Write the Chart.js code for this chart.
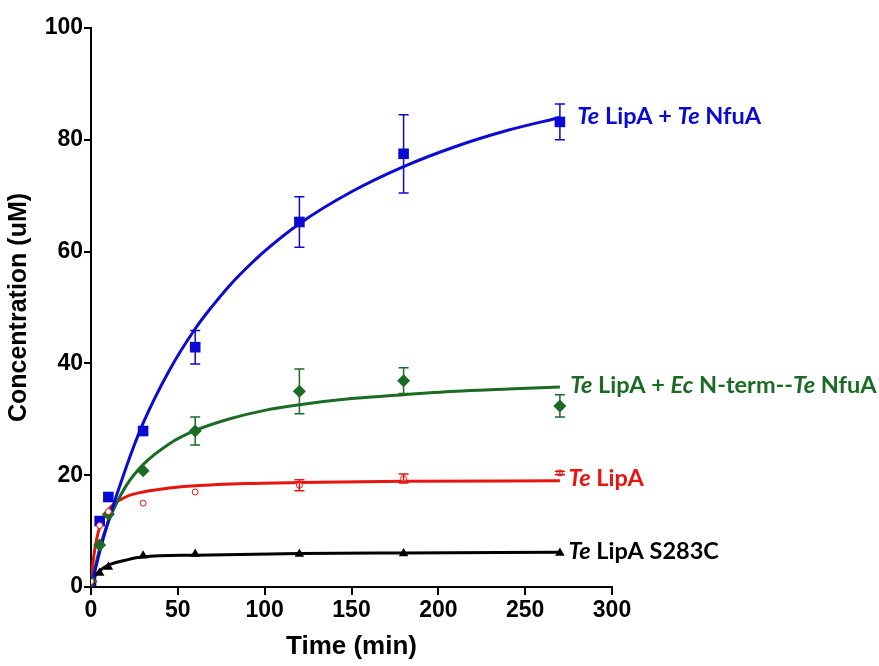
<!DOCTYPE html>
<html>
<head>
<meta charset="utf-8">
<script src="https://cdn.jsdelivr.net/npm/chart.js@4"></script>
<style>
  body { margin: 0; background: #fff; }
  canvas { display: block; }
</style>
</head>
<body>
<canvas id="chart" width="879" height="666"></canvas>
<script>
// measured time points (min)
const times = [0, 5, 10, 30, 60, 120, 180, 270];

// means and error bars (uM)
const nfuaMean = [1.0, 11.8, 16.1, 27.9, 42.9, 65.3, 77.5, 83.2];
const nfuaErr = [0, 0, 0, 0, 3.0, 4.5, 7.0, 3.2];
const ecNfuaMean = [1.0, 7.5, 13.0, 20.8, 27.9, 35.0, 36.9, 32.4];
const ecNfuaErr = [0, 0, 0, 0, 2.5, 4.0, 2.3, 2.0];
const lipaMean = [1.0, 11.0, 13.5, 15.0, 17.0, 18.2, 19.4, 20.4];
const lipaErr = [0, 0, 0, 0, 0, 1.0, 0.8, 0.3];
const mutantMean = [1.0, 2.5, 3.6, 5.6, 5.9, 5.9, 6.0, 6.1];

// fitted curves
const nfuaFitT = [0, 5, 10, 20, 30, 45, 60, 70, 80, 90, 100, 120, 150, 180, 210, 240, 270];
const nfuaFitY = [0, 6.3, 11.8, 21.2, 29.3, 38.7, 46.2, 50.3, 54.0, 57.2, 60.1, 65.0, 70.7, 75.2, 78.8, 81.7, 84.0];
const ecNfuaFitT = [0, 5, 10, 20, 30, 45, 60, 80, 100, 120, 150, 180, 210, 240, 270];
const ecNfuaFitY = [0, 6.9, 11.7, 18.0, 21.9, 25.6, 28.0, 30.1, 31.6, 32.6, 33.7, 34.4, 35.0, 35.4, 35.8];
const lipaFitT = [0, 1, 2, 5, 10, 20, 30, 45, 60, 90, 120, 180, 270];
const lipaFitY = [0, 3.9, 6.4, 10.7, 13.8, 16.1, 17.0, 17.7, 18.1, 18.5, 18.7, 18.9, 19.0];
const mutantFitT = [0, 2, 5, 10, 20, 30, 60, 120, 180, 270];
const mutantFitY = [0, 1.8, 2.9, 3.9, 4.8, 5.4, 5.7, 6.0, 6.1, 6.2];

const xTicks = [0, 50, 100, 150, 200, 250, 300];
const yTicks = [0, 20, 40, 60, 80, 100];

// curve labels: [pieces (text, italic)], anchor (x, y in data units)
const seriesLabels = [
  { color: '#0a0ad2', at: [280, 84.2], parts: [['Te', true], [' LipA + ', false], ['Te', true], [' NfuA', false]] },
  { color: '#1b6b25', at: [276, 36.0], parts: [['Te', true], [' LipA + ', false], ['Ec', true], [' N-term--', false], ['Te', true], [' NfuA', false]] },
  { color: '#e8140f', at: [275, 19.4], parts: [['Te', true], [' LipA', false]] },
  { color: '#000000', at: [275, 6.4], parts: [['Te', true], [' LipA S283C', false]] }
];

const BLUE = '#0a0ad2', GREEN = '#1b6b25', RED = '#e8140f', BLACK = '#000000';

const pts = (xs, ys) => xs.map((x, i) => ({ x: x, y: ys[i] }));

const curve = (xs, ys, color) => ({
  data: pts(xs, ys),
  showLine: true,
  borderColor: color,
  borderWidth: 3,
  pointRadius: 0,
  cubicInterpolationMode: 'monotone',
  order: 2
});

const marks = (ys, err, color, style, radius, filled) => ({
  data: pts(times, ys),
  errors: err,
  showLine: false,
  pointStyle: style,
  pointRadius: radius,
  pointBackgroundColor: filled ? color : '#fff',
  pointBorderColor: color,
  pointBorderWidth: filled ? 0 : 1,
  errColor: color,
  order: 1
});

const errorBars = {
  id: 'errorBars',
  afterDatasetsDraw(chart) {
    const ctx = chart.ctx;
    const xs = chart.scales.x, ys = chart.scales.y;
    chart.data.datasets.forEach(ds => {
      if (!ds.errors) return;
      ctx.save();
      ctx.strokeStyle = ds.errColor;
      ctx.lineWidth = 1.5;
      ds.data.forEach((p, i) => {
        const e = ds.errors[i];
        if (!e) return;
        const px = xs.getPixelForValue(p.x);
        const top = ys.getPixelForValue(p.y + e);
        const bot = ys.getPixelForValue(p.y - e);
        ctx.beginPath();
        ctx.moveTo(px, top); ctx.lineTo(px, bot);
        ctx.moveTo(px - 5, top); ctx.lineTo(px + 5, top);
        ctx.moveTo(px - 5, bot); ctx.lineTo(px + 5, bot);
        ctx.stroke();
      });
      ctx.restore();
    });
  }
};

const curveLabels = {
  id: 'curveLabels',
  afterDraw(chart) {
    const ctx = chart.ctx;
    const xs = chart.scales.x, ys = chart.scales.y;
    ctx.save();
    ctx.textBaseline = 'middle';
    seriesLabels.forEach(lab => {
      let x = xs.getPixelForValue(lab.at[0]);
      const y = ys.getPixelForValue(lab.at[1]);
      ctx.fillStyle = lab.color;
      lab.parts.forEach(([txt, it]) => {
        ctx.font = (it ? 'italic ' : '') + 'bold 23.5px Lato, "Open Sans", sans-serif';
        ctx.fillText(txt, x, y);
        x += ctx.measureText(txt).width;
      });
    });
    ctx.restore();
  }
};

new Chart(document.getElementById('chart'), {
  type: 'scatter',
  data: {
    datasets: [
      curve(nfuaFitT, nfuaFitY, BLUE),
      curve(ecNfuaFitT, ecNfuaFitY, GREEN),
      curve(lipaFitT, lipaFitY, RED),
      curve(mutantFitT, mutantFitY, BLACK),
      marks(lipaMean, lipaErr, RED, 'circle', 3, false),
      marks(mutantMean, mutantMean.map(() => 0), BLACK, 'triangle', 5.5, true),
      marks(ecNfuaMean, ecNfuaErr, GREEN, 'rectRot', 6.5, true),
      marks(nfuaMean, nfuaErr, BLUE, 'rect', 7.5, true)
    ]
  },
  options: {
    responsive: false,
    animation: false,
    layout: { padding: { top: 28, right: 267, left: 0, bottom: 0 } },
    plugins: { legend: { display: false }, tooltip: { enabled: false } },
    scales: {
      x: {
        type: 'linear',
        min: 0,
        max: 300,
        afterBuildTicks: axis => { axis.ticks = xTicks.map(v => ({ value: v })); },
        afterFit: axis => { axis.height = 79; },
        border: { color: BLACK, width: 2 },
        grid: { display: true, drawOnChartArea: false, drawTicks: true, tickLength: 8, color: BLACK, lineWidth: 2 },
        ticks: { color: BLACK, font: { family: 'Liberation Sans, Arial', weight: 'bold', size: 23 }, padding: 2, maxRotation: 0 },
        title: { display: true, text: 'Time (min)', color: BLACK, font: { family: 'Liberation Sans, Arial', weight: 'bold', size: 26 }, padding: { top: 10 } }
      },
      y: {
        min: 0,
        max: 100,
        afterBuildTicks: axis => { axis.ticks = yTicks.map(v => ({ value: v })); },
        afterFit: axis => { axis.width = 91; },
        border: { color: BLACK, width: 2 },
        grid: { display: true, drawOnChartArea: false, drawTicks: true, tickLength: 7, color: BLACK, lineWidth: 2 },
        ticks: { color: BLACK, font: { family: 'Liberation Sans, Arial', weight: 'bold', size: 23 }, padding: 1 },
        title: { display: true, text: 'Concentration (uM)', color: BLACK, font: { family: 'Liberation Sans, Arial', weight: 'bold', size: 25 }, padding: { bottom: 4 } }
      }
    }
  },
  plugins: [errorBars, curveLabels]
});
</script>
</body>
</html>
